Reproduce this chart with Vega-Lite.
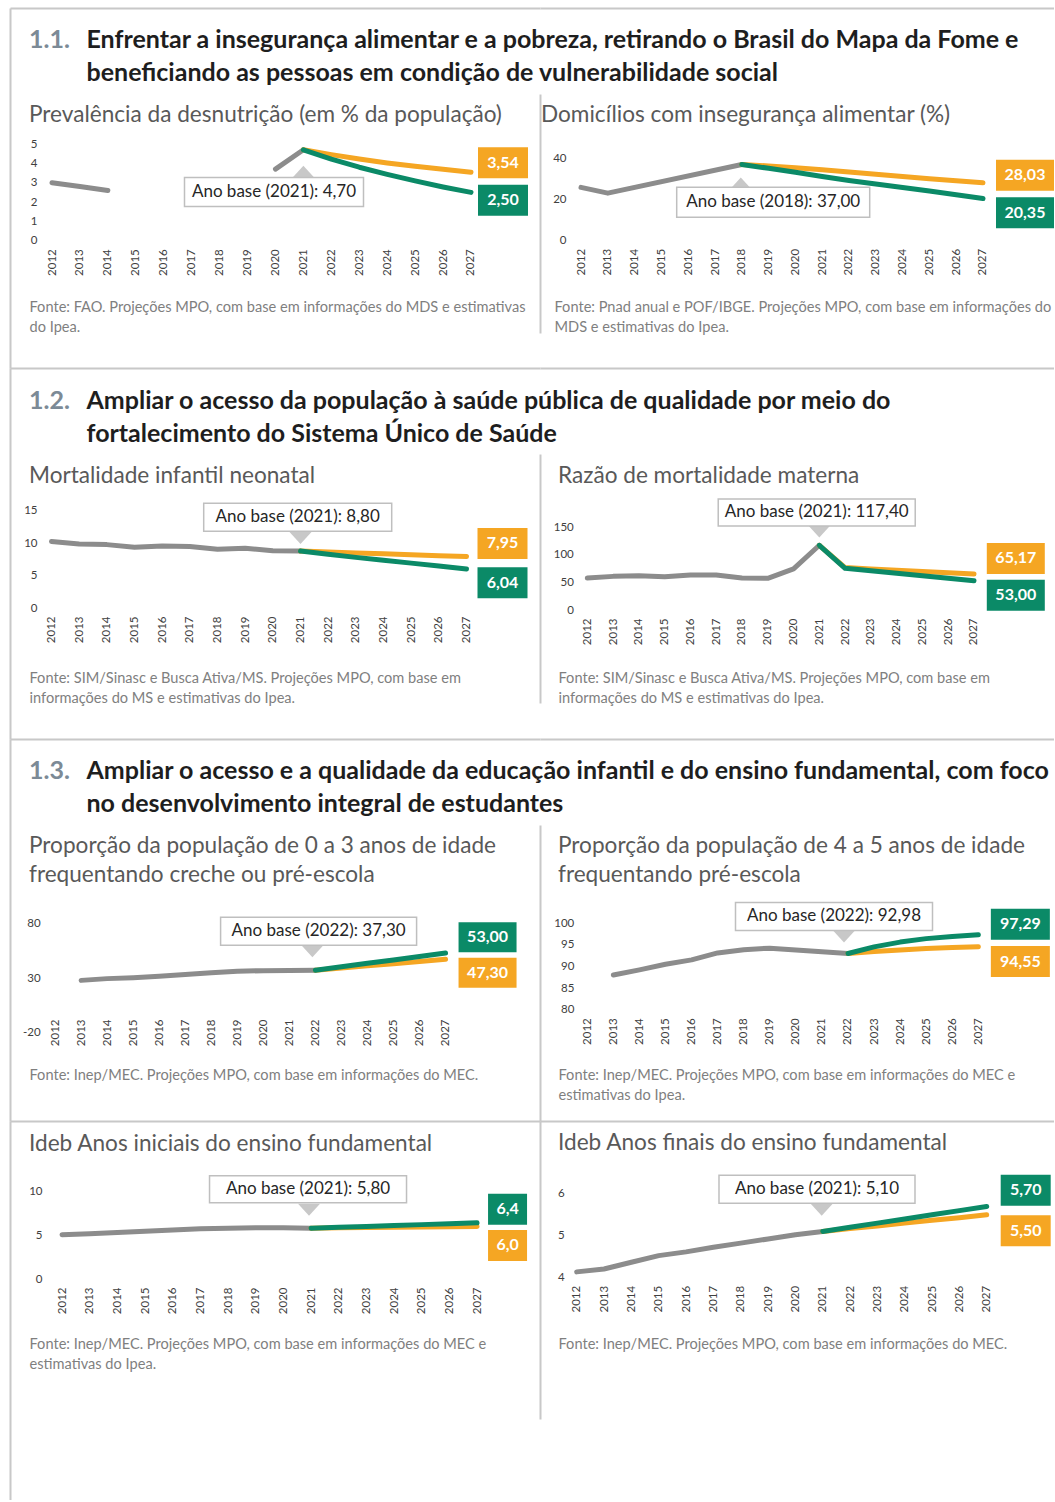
{
"$schema":"https://vega.github.io/schema/vega-lite/v6.json",
"background":"white",
"padding":{"left":10,"top":8,"right":0,"bottom":0},
"autosize":{"type":"pad"},
"columns":2,
"spacing":0,
"bounds":"flush",
"config":{
 "font":"Lato",
 "view":{"stroke":null},
 "locale":{"number":{"decimal":",","thousands":".","grouping":[3],"currency":["R$",""],"minus":"-"}},
 "axis":{"labelFont":"Lato","titleFont":"Lato","labelColor":"#404040","domain":false,"ticks":false,"tickSize":0,"grid":false,"labelFlush":false,"labelOverlap":false,"gridColor":"#C8C8C8","gridWidth":2,"gridOpacity":1,"tickColor":"#C8C8C8","tickWidth":2},
 "title":{"font":"Lato","subtitleFont":"Lato","anchor":"start","frame":"group","fontSize":22.6,"fontWeight":"normal","color":"#595959"},
 "line":{"strokeWidth":5,"strokeCap":"round","strokeJoin":"round"},
 "point":{"filled":true,"opacity":1,"strokeWidth":0},
 "text":{"font":"Lato","align":"center","baseline":"middle"},
 "rule":{"color":"#D9D9D9","strokeWidth":2}
},
"datasets":{
"p1":[
{"year":2012,"v":3.0,"s":"h"},{"year":2013,"v":2.8,"s":"h"},{"year":2014,"v":2.6,"s":"h"},
{"year":2020,"v":3.7,"s":"h2"},{"year":2021,"v":4.7,"s":"h2","note":"Ano base (2021): 4,70"},
{"year":2021,"v":4.7,"s":"o"},{"year":2022,"v":4.45,"s":"o"},{"year":2023,"v":4.22,"s":"o"},{"year":2024,"v":4.02,"s":"o"},{"year":2025,"v":3.85,"s":"o"},{"year":2026,"v":3.69,"s":"o"},{"year":2027,"v":3.54,"s":"o","lab":"3,54"},
{"year":2021,"v":4.7,"s":"g"},{"year":2022,"v":4.22,"s":"g"},{"year":2023,"v":3.8,"s":"g"},{"year":2024,"v":3.43,"s":"g"},{"year":2025,"v":3.09,"s":"g"},{"year":2026,"v":2.78,"s":"g"},{"year":2027,"v":2.5,"s":"g","lab":"2,50"}
],
"p2":[
{"year":2012,"v":25.8,"s":"h"},{"year":2013,"v":23.0,"s":"h"},{"year":2018,"v":37.0,"s":"h","note":"Ano base (2018): 37,00"},
{"year":2018,"v":37.0,"s":"o"},{"year":2019,"v":36.3,"s":"o"},{"year":2020,"v":35.4,"s":"o"},{"year":2021,"v":34.4,"s":"o"},{"year":2022,"v":33.3,"s":"o"},{"year":2023,"v":32.2,"s":"o"},{"year":2024,"v":31.1,"s":"o"},{"year":2025,"v":30.0,"s":"o"},{"year":2026,"v":29.0,"s":"o"},{"year":2027,"v":28.03,"s":"o","lab":"28,03"},
{"year":2018,"v":37.0,"s":"g"},{"year":2019,"v":35.1,"s":"g"},{"year":2020,"v":33.2,"s":"g"},{"year":2021,"v":31.1,"s":"g"},{"year":2022,"v":29.2,"s":"g"},{"year":2023,"v":27.5,"s":"g"},{"year":2024,"v":25.8,"s":"g"},{"year":2025,"v":24.0,"s":"g"},{"year":2026,"v":22.2,"s":"g"},{"year":2027,"v":20.35,"s":"g","lab":"20,35"}
],
"p3":[
{"year":2012,"v":10.3,"s":"h"},{"year":2013,"v":9.9,"s":"h"},{"year":2014,"v":9.8,"s":"h"},{"year":2015,"v":9.4,"s":"h"},{"year":2016,"v":9.6,"s":"h"},{"year":2017,"v":9.5,"s":"h"},{"year":2018,"v":9.1,"s":"h"},{"year":2019,"v":9.25,"s":"h"},{"year":2020,"v":8.85,"s":"h"},{"year":2021,"v":8.8,"s":"h","note":"Ano base (2021): 8,80"},
{"year":2021,"v":8.8,"s":"o"},{"year":2022,"v":8.66,"s":"o"},{"year":2023,"v":8.52,"s":"o"},{"year":2024,"v":8.37,"s":"o"},{"year":2025,"v":8.23,"s":"o"},{"year":2026,"v":8.09,"s":"o"},{"year":2027,"v":7.95,"s":"o","lab":"7,95"},
{"year":2021,"v":8.8,"s":"g"},{"year":2022,"v":8.3,"s":"g"},{"year":2023,"v":7.83,"s":"g"},{"year":2024,"v":7.38,"s":"g"},{"year":2025,"v":6.94,"s":"g"},{"year":2026,"v":6.49,"s":"g"},{"year":2027,"v":6.04,"s":"g","lab":"6,04"}
],
"p4":[
{"year":2012,"v":58,"s":"h"},{"year":2013,"v":61,"s":"h"},{"year":2014,"v":62,"s":"h"},{"year":2015,"v":60.5,"s":"h"},{"year":2016,"v":63.5,"s":"h"},{"year":2017,"v":63.5,"s":"h"},{"year":2018,"v":58,"s":"h"},{"year":2019,"v":57.5,"s":"h"},{"year":2020,"v":74.5,"s":"h"},{"year":2021,"v":117.4,"s":"h","note":"Ano base (2021): 117,40"},
{"year":2021,"v":117.4,"s":"o"},{"year":2022,"v":77,"s":"o"},{"year":2023,"v":74.6,"s":"o"},{"year":2024,"v":72.3,"s":"o"},{"year":2025,"v":69.9,"s":"o"},{"year":2026,"v":67.5,"s":"o"},{"year":2027,"v":65.17,"s":"o","lab":"65,17"},
{"year":2021,"v":117.4,"s":"g"},{"year":2022,"v":75.6,"s":"g"},{"year":2023,"v":71.1,"s":"g"},{"year":2024,"v":66.6,"s":"g"},{"year":2025,"v":62.1,"s":"g"},{"year":2026,"v":57.5,"s":"g"},{"year":2027,"v":53.0,"s":"g","lab":"53,00"}
],
"p5":[
{"year":2013,"v":28.0,"s":"h"},{"year":2014,"v":29.6,"s":"h"},{"year":2015,"v":30.5,"s":"h"},{"year":2016,"v":31.7,"s":"h"},{"year":2017,"v":33.4,"s":"h"},{"year":2018,"v":35.0,"s":"h"},{"year":2019,"v":36.3,"s":"h"},{"year":2020,"v":36.9,"s":"h"},{"year":2021,"v":37.1,"s":"h"},{"year":2022,"v":37.3,"s":"h","note":"Ano base (2022): 37,30"},
{"year":2022,"v":37.3,"s":"o"},{"year":2023,"v":39.3,"s":"o"},{"year":2024,"v":41.3,"s":"o"},{"year":2025,"v":43.3,"s":"o"},{"year":2026,"v":45.3,"s":"o"},{"year":2027,"v":47.3,"s":"o","lab":"47,30"},
{"year":2022,"v":37.3,"s":"g"},{"year":2023,"v":40.4,"s":"g"},{"year":2024,"v":43.6,"s":"g"},{"year":2025,"v":46.7,"s":"g"},{"year":2026,"v":49.9,"s":"g"},{"year":2027,"v":53.0,"s":"g","lab":"53,00"}
],
"p6":[
{"year":2013,"v":88.0,"s":"h"},{"year":2014,"v":89.2,"s":"h"},{"year":2015,"v":90.5,"s":"h"},{"year":2016,"v":91.5,"s":"h"},{"year":2017,"v":93.1,"s":"h"},{"year":2018,"v":93.85,"s":"h"},{"year":2019,"v":94.2,"s":"h"},{"year":2020,"v":93.8,"s":"h"},{"year":2021,"v":93.4,"s":"h"},{"year":2022,"v":92.98,"s":"h","note":"Ano base (2022): 92,98"},
{"year":2022,"v":92.98,"s":"o"},{"year":2023,"v":93.45,"s":"o"},{"year":2024,"v":93.8,"s":"o"},{"year":2025,"v":94.1,"s":"o"},{"year":2026,"v":94.35,"s":"o"},{"year":2027,"v":94.55,"s":"o","lab":"94,55"},
{"year":2022,"v":92.98,"s":"g"},{"year":2023,"v":94.5,"s":"g"},{"year":2024,"v":95.6,"s":"g"},{"year":2025,"v":96.4,"s":"g"},{"year":2026,"v":96.9,"s":"g"},{"year":2027,"v":97.29,"s":"g","lab":"97,29"}
],
"p7":[
{"year":2012,"v":5.05,"s":"h"},{"year":2013,"v":5.15,"s":"h"},{"year":2014,"v":5.3,"s":"h"},{"year":2015,"v":5.45,"s":"h"},{"year":2016,"v":5.6,"s":"h"},{"year":2017,"v":5.72,"s":"h"},{"year":2018,"v":5.8,"s":"h"},{"year":2019,"v":5.85,"s":"h"},{"year":2020,"v":5.83,"s":"h"},{"year":2021,"v":5.8,"s":"h","note":"Ano base (2021): 5,80"},
{"year":2021,"v":5.8,"s":"o"},{"year":2022,"v":5.83,"s":"o"},{"year":2023,"v":5.87,"s":"o"},{"year":2024,"v":5.9,"s":"o"},{"year":2025,"v":5.93,"s":"o"},{"year":2026,"v":5.97,"s":"o"},{"year":2027,"v":6.0,"s":"o","lab":"6,0"},
{"year":2021,"v":5.8,"s":"g"},{"year":2022,"v":5.9,"s":"g"},{"year":2023,"v":6.0,"s":"g"},{"year":2024,"v":6.1,"s":"g"},{"year":2025,"v":6.2,"s":"g"},{"year":2026,"v":6.3,"s":"g"},{"year":2027,"v":6.4,"s":"g","lab":"6,4"}
],
"p8":[
{"year":2012,"v":4.13,"s":"h"},{"year":2013,"v":4.2,"s":"h"},{"year":2014,"v":4.36,"s":"h"},{"year":2015,"v":4.52,"s":"h"},{"year":2016,"v":4.61,"s":"h"},{"year":2017,"v":4.72,"s":"h"},{"year":2018,"v":4.82,"s":"h"},{"year":2019,"v":4.92,"s":"h"},{"year":2020,"v":5.02,"s":"h"},{"year":2021,"v":5.1,"s":"h","note":"Ano base (2021): 5,10"},
{"year":2021,"v":5.1,"s":"o"},{"year":2022,"v":5.17,"s":"o"},{"year":2023,"v":5.23,"s":"o"},{"year":2024,"v":5.3,"s":"o"},{"year":2025,"v":5.37,"s":"o"},{"year":2026,"v":5.43,"s":"o"},{"year":2027,"v":5.5,"s":"o","lab":"5,50"},
{"year":2021,"v":5.1,"s":"g"},{"year":2022,"v":5.2,"s":"g"},{"year":2023,"v":5.3,"s":"g"},{"year":2024,"v":5.4,"s":"g"},{"year":2025,"v":5.5,"s":"g"},{"year":2026,"v":5.6,"s":"g"},{"year":2027,"v":5.7,"s":"g","lab":"5,70"}
]
},
"concat":[
{
"width":530,"height":360,"data":{"name":"p1"},
"title":{"text":"1.1.","subtitle":"Prevalência da desnutrição (em % da população)","fontSize":25,"fontWeight":"bold","color":"#7C8A96","subtitleFontSize":22.6,"subtitleColor":"#595959","subtitleFontWeight":"normal","subtitlePadding":51,"dx":19,"offset":-118.3},
"encoding":{"x":{"field":"year","type":"quantitative","scale":{"domain":[2010.4964,2029.4702],"nice":false,"zero":false},"axis":null},"y":{"field":"v","type":"quantitative","scale":{"domain":[-6.5822,12.0321],"nice":false,"zero":false},"axis":null}},
"resolve":{"axis":{"x":"independent","y":"independent"}},
"layer":[
{"data":{"values":[{}]},"mark":{"type":"rule"},"encoding":{"x":{"datum":2012,"type":"quantitative","scale":{"domain":[2010.4964,2029.4702],"nice":false,"zero":false},"axis":{"orient":"bottom","values":[2010.4964],"grid":true,"labels":false,"title":null}},"x2":{"datum":2027},"y":{"datum":0,"type":"quantitative","scale":{"domain":[-6.5822,12.0321],"nice":false,"zero":false},"axis":{"orient":"left","values":[12.0321],"grid":true,"labels":false,"title":null}}}},
{"transform":[{"filter":{"field":"s","oneOf":["h","h2"]}}],"mark":{"type":"line","color":"#8C8C8C"},"encoding":{
 "x":{"field":"year","type":"quantitative","scale":{"domain":[2010.4964,2029.4702],"nice":false,"zero":false},"axis":{"orient":"bottom","offset":-127.3,"values":[2012,2013,2014,2015,2016,2017,2018,2019,2020,2021,2022,2023,2024,2025,2026,2027],"format":"d","labelAngle":-90,"labelFontSize":11.5,"labelPadding":8,"title":["Fonte: FAO. Projeções MPO, com base em informações do MDS e estimativas","do Ipea."],"titleX":19,"titleY":58.6,"titleAlign":"left","titleAngle":0,"titleBaseline":"top","titleFontSize":14.6,"titleFontWeight":"normal","titleColor":"#7F7F7F","titleLineHeight":20,"titleLimit":1000}},
 "y":{"field":"v","type":"quantitative","scale":{"domain":[-6.5822,12.0321],"nice":false,"zero":false},"axis":{"orient":"left","offset":-42,"values":[0,1,2,3,4,5],"format":"d","labelFontSize":11.5,"labelPadding":15,"title":["Enfrentar a insegurança alimentar e a pobreza, retirando o Brasil do Mapa da Fome e","beneficiando as pessoas em condição de vulnerabilidade social"],"titleX":34,"titleY":19.25,"titleAlign":"left","titleAngle":0,"titleBaseline":"top","titleFontSize":25,"titleFontWeight":"bold","titleColor":"#1E1E1E","titleLineHeight":33,"titleLimit":1100}},
 "detail":{"field":"s"}}},
{"transform":[{"filter":"datum.s == 'o'"}],"mark":{"type":"line","color":"#F5A623"}},
{"transform":[{"filter":"datum.s == 'g'"}],"mark":{"type":"line","color":"#0B8A67"}},
{"transform":[{"filter":"datum.s == 'o' && datum.lab"}],"mark":{"type":"point","shape":"M-1,-0.62L1,-0.62L1,0.62L-1,0.62Z","size":2500,"fill":"#F5A623","xOffset":32,"yOffset":-9.5}},
{"transform":[{"filter":"datum.s == 'o' && datum.lab"}],"mark":{"type":"text","color":"white","fontWeight":"bold","fontSize":16,"xOffset":32,"yOffset":-9.5},"encoding":{"text":{"field":"lab"}}},
{"transform":[{"filter":"datum.s == 'g' && datum.lab"}],"mark":{"type":"point","shape":"M-1,-0.62L1,-0.62L1,0.62L-1,0.62Z","size":2500,"fill":"#0B8A67","xOffset":32,"yOffset":7.9}},
{"transform":[{"filter":"datum.s == 'g' && datum.lab"}],"mark":{"type":"text","color":"white","fontWeight":"bold","fontSize":16,"xOffset":32,"yOffset":7.9},"encoding":{"text":{"field":"lab"}}},
{"transform":[{"filter":"datum.note"}],"mark":{"type":"point","shape":"M-1,0.545L1,0.545L0,-0.545Z","size":484,"fill":"#C8C8C8","yOffset":22}},
{"transform":[{"filter":"datum.note"}],"mark":{"type":"point","shape":"M-1,-0.162L1,-0.162L1,0.162L-1,0.162Z","size":32041,"fill":"white","stroke":"#BFBFBF","strokeWidth":1.5,"xOffset":-29.4,"yOffset":42.2}},
{"transform":[{"filter":"datum.note"}],"mark":{"type":"text","fontSize":17,"color":"#262626","xOffset":-29.4,"yOffset":42.2},"encoding":{"text":{"field":"note"}}}
]
},
{
"width":514,"height":360,"data":{"name":"p2"},
"title":{"text":"Domicílios com insegurança alimentar (%)","dx":1,"offset":-118.3},
"encoding":{"x":{"field":"year","type":"quantitative","scale":{"domain":[2010.4701,2029.6493],"nice":false,"zero":false},"axis":null},"y":{"field":"v","type":"quantitative","scale":{"domain":[-62.2927,113.3171],"nice":false,"zero":false},"axis":null}},
"resolve":{"axis":{"x":"independent","y":"independent"}},
"layer":[
{"data":{"values":[{}]},"mark":{"type":"rule"},"encoding":{"x":{"datum":2012,"type":"quantitative","scale":{"domain":[2010.4701,2029.6493],"nice":false,"zero":false},"axis":{"orient":"top","offset":-86,"values":[2010.4701],"ticks":true,"tickSize":-239,"labels":false,"title":null}},"x2":{"datum":2027},"y":{"datum":0,"type":"quantitative","scale":{"domain":[-62.2927,113.3171],"nice":false,"zero":false},"axis":{"orient":"left","values":[113.3171],"grid":true,"labels":false,"title":null}}}},
{"transform":[{"filter":{"field":"s","oneOf":["h","h2"]}}],"mark":{"type":"line","color":"#8C8C8C"},"encoding":{
 "x":{"field":"year","type":"quantitative","scale":{"domain":[2010.4701,2029.6493],"nice":false,"zero":false},"axis":{"orient":"bottom","offset":-127.7,"values":[2012,2013,2014,2015,2016,2017,2018,2019,2020,2021,2022,2023,2024,2025,2026,2027],"format":"d","labelAngle":-90,"labelFontSize":11.5,"labelPadding":8,"title":["Fonte: Pnad anual e POF/IBGE. Projeções MPO, com base em informações do","MDS e estimativas do Ipea."],"titleX":14,"titleY":59.5,"titleAlign":"left","titleAngle":0,"titleBaseline":"top","titleFontSize":14.6,"titleFontWeight":"normal","titleColor":"#7F7F7F","titleLineHeight":20,"titleLimit":1000}},
 "y":{"field":"v","type":"quantitative","scale":{"domain":[-62.2927,113.3171],"nice":false,"zero":false},"axis":{"orient":"left","offset":-41,"values":[0,20,40],"format":"d","labelFontSize":11.5,"labelPadding":15,"title":null}},
 "detail":{"field":"s"}}},
{"transform":[{"filter":"datum.s == 'o'"}],"mark":{"type":"line","color":"#F5A623"}},
{"transform":[{"filter":"datum.s == 'g'"}],"mark":{"type":"line","color":"#0B8A67"}},
{"transform":[{"filter":"datum.s == 'o' && datum.lab"}],"mark":{"type":"point","shape":"M-1,-0.5345L1,-0.5345L1,0.5345L-1,0.5345Z","size":3364,"fill":"#F5A623","xOffset":42,"yOffset":-7.5}},
{"transform":[{"filter":"datum.s == 'o' && datum.lab"}],"mark":{"type":"text","color":"white","fontWeight":"bold","fontSize":16,"xOffset":42,"yOffset":-7.5},"encoding":{"text":{"field":"lab"}}},
{"transform":[{"filter":"datum.s == 'g' && datum.lab"}],"mark":{"type":"point","shape":"M-1,-0.5345L1,-0.5345L1,0.5345L-1,0.5345Z","size":3364,"fill":"#0B8A67","xOffset":42,"yOffset":14.1}},
{"transform":[{"filter":"datum.s == 'g' && datum.lab"}],"mark":{"type":"text","color":"white","fontWeight":"bold","fontSize":16,"xOffset":42,"yOffset":14.1},"encoding":{"text":{"field":"lab"}}},
{"transform":[{"filter":"datum.note"}],"mark":{"type":"point","shape":"M-1,0.545L1,0.545L0,-0.545Z","size":484,"fill":"#C8C8C8","xOffset":-1,"yOffset":19}},
{"transform":[{"filter":"datum.note"}],"mark":{"type":"point","shape":"M-1,-0.1554L1,-0.1554L1,0.1554L-1,0.1554Z","size":37249,"fill":"white","stroke":"#BFBFBF","strokeWidth":1.5,"xOffset":31.4,"yOffset":37.9}},
{"transform":[{"filter":"datum.note"}],"mark":{"type":"text","fontSize":17,"color":"#262626","xOffset":31.4,"yOffset":37.9},"encoding":{"text":{"field":"note"}}}
]
},
{
"width":530,"height":371,"data":{"name":"p3"},
"title":{"text":"1.2.","subtitle":"Mortalidade infantil neonatal","fontSize":25,"fontWeight":"bold","color":"#7C8A96","subtitleFontSize":22.6,"subtitleColor":"#595959","subtitleFontWeight":"normal","subtitlePadding":51,"dx":19,"offset":-119.3},
"encoding":{"x":{"field":"year","type":"quantitative","scale":{"domain":[2010.5,2029.6566],"nice":false,"zero":false},"axis":null},"y":{"field":"v","type":"quantitative","scale":{"domain":[-20.2567,37.1115],"nice":false,"zero":false},"axis":null}},
"resolve":{"axis":{"x":"independent","y":"independent"}},
"layer":[
{"data":{"values":[{}]},"mark":{"type":"rule"},"encoding":{"x":{"datum":2012,"type":"quantitative","scale":{"domain":[2010.5,2029.6566],"nice":false,"zero":false},"axis":{"orient":"bottom","values":[2010.5],"grid":true,"labels":false,"title":null}},"x2":{"datum":2027},"y":{"datum":0,"type":"quantitative","scale":{"domain":[-20.2567,37.1115],"nice":false,"zero":false},"axis":{"orient":"left","values":[37.1115],"grid":true,"labels":false,"title":null}}}},
{"transform":[{"filter":{"field":"s","oneOf":["h","h2"]}}],"mark":{"type":"line","color":"#8C8C8C"},"encoding":{
 "x":{"field":"year","type":"quantitative","scale":{"domain":[2010.5,2029.6566],"nice":false,"zero":false},"axis":{"orient":"bottom","offset":-131,"values":[2012,2013,2014,2015,2016,2017,2018,2019,2020,2021,2022,2023,2024,2025,2026,2027],"format":"d","labelAngle":-90,"labelFontSize":11.5,"labelPadding":8,"title":["Fonte: SIM/Sinasc e Busca Ativa/MS. Projeções MPO, com base em","informações do MS e estimativas do Ipea."],"titleX":19,"titleY":62,"titleAlign":"left","titleAngle":0,"titleBaseline":"top","titleFontSize":14.6,"titleFontWeight":"normal","titleColor":"#7F7F7F","titleLineHeight":20,"titleLimit":1000}},
 "y":{"field":"v","type":"quantitative","scale":{"domain":[-20.2567,37.1115],"nice":false,"zero":false},"axis":{"orient":"left","offset":-41.5,"values":[0,5,10,15],"format":"d","labelFontSize":11.5,"labelPadding":14.5,"title":["Ampliar o acesso da população à saúde pública de qualidade por meio do","fortalecimento do Sistema Único de Saúde"],"titleX":34.5,"titleY":20.25,"titleAlign":"left","titleAngle":0,"titleBaseline":"top","titleFontSize":25,"titleFontWeight":"bold","titleColor":"#1E1E1E","titleLineHeight":33,"titleLimit":1100}},
 "detail":{"field":"s"}}},
{"transform":[{"filter":"datum.s == 'o'"}],"mark":{"type":"line","color":"#F5A623"}},
{"transform":[{"filter":"datum.s == 'g'"}],"mark":{"type":"line","color":"#0B8A67"}},
{"transform":[{"filter":"datum.s == 'o' && datum.lab"}],"mark":{"type":"point","shape":"M-1,-0.62L1,-0.62L1,0.62L-1,0.62Z","size":2500,"fill":"#F5A623","xOffset":36,"yOffset":-13.1}},
{"transform":[{"filter":"datum.s == 'o' && datum.lab"}],"mark":{"type":"text","color":"white","fontWeight":"bold","fontSize":16,"xOffset":36,"yOffset":-13.1},"encoding":{"text":{"field":"lab"}}},
{"transform":[{"filter":"datum.s == 'g' && datum.lab"}],"mark":{"type":"point","shape":"M-1,-0.62L1,-0.62L1,0.62L-1,0.62Z","size":2500,"fill":"#0B8A67","xOffset":36,"yOffset":13.7}},
{"transform":[{"filter":"datum.s == 'g' && datum.lab"}],"mark":{"type":"text","color":"white","fontWeight":"bold","fontSize":16,"xOffset":36,"yOffset":13.7},"encoding":{"text":{"field":"lab"}}},
{"transform":[{"filter":"datum.note"}],"mark":{"type":"point","shape":"M-1,-0.545L1,-0.545L0,0.545Z","size":484,"fill":"#C8C8C8","yOffset":-13}},
{"transform":[{"filter":"datum.note"}],"mark":{"type":"point","shape":"M-1,-0.1489L1,-0.1489L1,0.1489L-1,0.1489Z","size":35344,"fill":"white","stroke":"#BFBFBF","strokeWidth":1.5,"xOffset":-2.8,"yOffset":-33.9}},
{"transform":[{"filter":"datum.note"}],"mark":{"type":"text","fontSize":17,"color":"#262626","xOffset":-2.8,"yOffset":-33.9},"encoding":{"text":{"field":"note"}}}
]
},
{
"width":514,"height":371,"data":{"name":"p4"},
"title":{"text":"Razão de mortalidade materna","dx":18,"offset":-119.3},
"encoding":{"x":{"field":"year","type":"quantitative","scale":{"domain":[2010.1652,2030.1032],"nice":false,"zero":false},"axis":null},"y":{"field":"v","type":"quantitative","scale":{"domain":[-233.9924,438.9625],"nice":false,"zero":false},"axis":null}},
"resolve":{"axis":{"x":"independent","y":"independent"}},
"layer":[
{"data":{"values":[{}]},"mark":{"type":"rule"},"encoding":{"x":{"datum":2012,"type":"quantitative","scale":{"domain":[2010.1652,2030.1032],"nice":false,"zero":false},"axis":{"orient":"top","offset":-86,"values":[2010.1652],"ticks":true,"tickSize":-249,"labels":false,"title":null}},"x2":{"datum":2027},"y":{"datum":0,"type":"quantitative","scale":{"domain":[-233.9924,438.9625],"nice":false,"zero":false},"axis":{"orient":"left","values":[438.9625],"grid":true,"labels":false,"title":null}}}},
{"transform":[{"filter":{"field":"s","oneOf":["h","h2"]}}],"mark":{"type":"line","color":"#8C8C8C"},"encoding":{
 "x":{"field":"year","type":"quantitative","scale":{"domain":[2010.1652,2030.1032],"nice":false,"zero":false},"axis":{"orient":"bottom","offset":-129,"values":[2012,2013,2014,2015,2016,2017,2018,2019,2020,2021,2022,2023,2024,2025,2026,2027],"format":"d","labelAngle":-90,"labelFontSize":11.5,"labelPadding":8,"title":["Fonte: SIM/Sinasc e Busca Ativa/MS. Projeções MPO, com base em","informações do MS e estimativas do Ipea."],"titleX":18,"titleY":60,"titleAlign":"left","titleAngle":0,"titleBaseline":"top","titleFontSize":14.6,"titleFontWeight":"normal","titleColor":"#7F7F7F","titleLineHeight":20,"titleLimit":1000}},
 "y":{"field":"v","type":"quantitative","scale":{"domain":[-233.9924,438.9625],"nice":false,"zero":false},"axis":{"orient":"left","offset":-47.3,"values":[0,50,100,150],"format":"d","labelFontSize":11.5,"labelPadding":14,"title":null}},
 "detail":{"field":"s"}}},
{"transform":[{"filter":"datum.s == 'o'"}],"mark":{"type":"line","color":"#F5A623"}},
{"transform":[{"filter":"datum.s == 'g'"}],"mark":{"type":"line","color":"#0B8A67"}},
{"transform":[{"filter":"datum.s == 'o' && datum.lab"}],"mark":{"type":"point","shape":"M-1,-0.5345L1,-0.5345L1,0.5345L-1,0.5345Z","size":3364,"fill":"#F5A623","xOffset":41.8,"yOffset":-15.6}},
{"transform":[{"filter":"datum.s == 'o' && datum.lab"}],"mark":{"type":"text","color":"white","fontWeight":"bold","fontSize":16,"xOffset":41.8,"yOffset":-15.6},"encoding":{"text":{"field":"lab"}}},
{"transform":[{"filter":"datum.s == 'g' && datum.lab"}],"mark":{"type":"point","shape":"M-1,-0.5345L1,-0.5345L1,0.5345L-1,0.5345Z","size":3364,"fill":"#0B8A67","xOffset":41.8,"yOffset":14.4}},
{"transform":[{"filter":"datum.s == 'g' && datum.lab"}],"mark":{"type":"text","color":"white","fontWeight":"bold","fontSize":16,"xOffset":41.8,"yOffset":14.4},"encoding":{"text":{"field":"lab"}}},
{"transform":[{"filter":"datum.note"}],"mark":{"type":"point","shape":"M-1,-0.545L1,-0.545L0,0.545Z","size":484,"fill":"#C8C8C8","yOffset":-13.8}},
{"transform":[{"filter":"datum.note"}],"mark":{"type":"point","shape":"M-1,-0.1371L1,-0.1371L1,0.1371L-1,0.1371Z","size":38809,"fill":"white","stroke":"#BFBFBF","strokeWidth":1.5,"xOffset":-2.6,"yOffset":-32.8}},
{"transform":[{"filter":"datum.note"}],"mark":{"type":"text","fontSize":17,"color":"#262626","xOffset":-2.6,"yOffset":-32.8},"encoding":{"text":{"field":"note"}}}
]
},
{
"width":530,"height":382,"data":{"name":"p5"},
"title":{"text":"1.3.","subtitle":["Proporção da população de 0 a 3 anos de idade","frequentando creche ou pré-escola"],"fontSize":25,"fontWeight":"bold","color":"#7C8A96","subtitleFontSize":22.6,"subtitleColor":"#595959","subtitleFontWeight":"normal","subtitleLineHeight":29,"subtitlePadding":51,"dx":19,"offset":-147.3},
"encoding":{"x":{"field":"year","type":"quantitative","scale":{"domain":[2010.2674,2030.6285],"nice":false,"zero":false},"axis":null},"y":{"field":"v","type":"quantitative","scale":{"domain":[-100.5668,248.6743],"nice":false,"zero":false},"axis":null}},
"resolve":{"axis":{"x":"independent","y":"independent"}},
"layer":[
{"data":{"values":[{}]},"mark":{"type":"rule"},"encoding":{"x":{"datum":2012,"type":"quantitative","scale":{"domain":[2010.2674,2030.6285],"nice":false,"zero":false},"axis":{"orient":"bottom","values":[2010.2674],"grid":true,"labels":false,"title":null}},"x2":{"datum":2027},"y":{"datum":0,"type":"quantitative","scale":{"domain":[-100.5668,248.6743],"nice":false,"zero":false},"axis":{"orient":"left","values":[248.6743],"grid":true,"labels":false,"title":null}}}},
{"transform":[{"filter":{"field":"s","oneOf":["h","h2"]}}],"mark":{"type":"line","color":"#8C8C8C"},"encoding":{
 "x":{"field":"year","type":"quantitative","scale":{"domain":[2010.2674,2030.6285],"nice":false,"zero":false},"axis":{"orient":"bottom","offset":-110,"values":[2012,2013,2014,2015,2016,2017,2018,2019,2020,2021,2022,2023,2024,2025,2026,2027],"format":"d","labelAngle":-90,"labelFontSize":11.5,"labelPadding":8,"title":"Fonte: Inep/MEC. Projeções MPO, com base em informações do MEC.","titleX":19,"titleY":56.3,"titleAlign":"left","titleAngle":0,"titleBaseline":"top","titleFontSize":14.6,"titleFontWeight":"normal","titleColor":"#7F7F7F","titleLineHeight":20,"titleLimit":1000}},
 "y":{"field":"v","type":"quantitative","scale":{"domain":[-100.5668,248.6743],"nice":false,"zero":false},"axis":{"orient":"left","offset":-45.1,"values":[-20,30,80],"format":"d","labelFontSize":11.5,"labelPadding":15,"title":["Ampliar o acesso e a qualidade da educação infantil e do ensino fundamental, com foco","no desenvolvimento integral de estudantes"],"titleX":30.9,"titleY":19.25,"titleAlign":"left","titleAngle":0,"titleBaseline":"top","titleFontSize":25,"titleFontWeight":"bold","titleColor":"#1E1E1E","titleLineHeight":33,"titleLimit":1100}},
 "detail":{"field":"s"}}},
{"transform":[{"filter":"datum.s == 'o'"}],"mark":{"type":"line","color":"#F5A623"}},
{"transform":[{"filter":"datum.s == 'g'"}],"mark":{"type":"line","color":"#0B8A67"}},
{"transform":[{"filter":"datum.s == 'o' && datum.lab"}],"mark":{"type":"point","shape":"M-1,-0.5172L1,-0.5172L1,0.5172L-1,0.5172Z","size":3364,"fill":"#F5A623","xOffset":42,"yOffset":13.4}},
{"transform":[{"filter":"datum.s == 'o' && datum.lab"}],"mark":{"type":"text","color":"white","fontWeight":"bold","fontSize":16,"xOffset":42,"yOffset":13.4},"encoding":{"text":{"field":"lab"}}},
{"transform":[{"filter":"datum.s == 'g' && datum.lab"}],"mark":{"type":"point","shape":"M-1,-0.5172L1,-0.5172L1,0.5172L-1,0.5172Z","size":3364,"fill":"#0B8A67","xOffset":42,"yOffset":-15.7}},
{"transform":[{"filter":"datum.s == 'g' && datum.lab"}],"mark":{"type":"text","color":"white","fontWeight":"bold","fontSize":16,"xOffset":42,"yOffset":-15.7},"encoding":{"text":{"field":"lab"}}},
{"transform":[{"filter":"datum.note"}],"mark":{"type":"point","shape":"M-1,-0.545L1,-0.545L0,0.545Z","size":484,"fill":"#C8C8C8","xOffset":-3,"yOffset":-19}},
{"transform":[{"filter":"datum.note"}],"mark":{"type":"point","shape":"M-1,-0.1429L1,-0.1429L1,0.1429L-1,0.1429Z","size":38416,"fill":"white","stroke":"#BFBFBF","strokeWidth":1.5,"xOffset":3.2,"yOffset":-39}},
{"transform":[{"filter":"datum.note"}],"mark":{"type":"text","fontSize":17,"color":"#262626","xOffset":3.2,"yOffset":-39},"encoding":{"text":{"field":"note"}}}
]
},
{
"width":514,"height":382,"data":{"name":"p6"},
"title":{"text":["Proporção da população de 4 a 5 anos de idade","frequentando pré-escola"],"lineHeight":29,"dx":18,"offset":-147.3},
"encoding":{"x":{"field":"year","type":"quantitative","scale":{"domain":[2010.1857,2029.9018],"nice":false,"zero":false},"axis":null},"y":{"field":"v","type":"quantitative","scale":{"domain":[54.3154,142.4692],"nice":false,"zero":false},"axis":null}},
"resolve":{"axis":{"x":"independent","y":"independent"}},
"layer":[
{"data":{"values":[{}]},"mark":{"type":"rule"},"encoding":{"x":{"datum":2012,"type":"quantitative","scale":{"domain":[2010.1857,2029.9018],"nice":false,"zero":false},"axis":{"orient":"top","offset":-86,"values":[2010.1857],"ticks":true,"tickSize":-296,"labels":false,"title":null}},"x2":{"datum":2027},"y":{"datum":80,"type":"quantitative","scale":{"domain":[54.3154,142.4692],"nice":false,"zero":false},"axis":{"orient":"left","values":[142.4692],"grid":true,"labels":false,"title":null}}}},
{"transform":[{"filter":{"field":"s","oneOf":["h","h2"]}}],"mark":{"type":"line","color":"#8C8C8C"},"encoding":{
 "x":{"field":"year","type":"quantitative","scale":{"domain":[2010.1857,2029.9018],"nice":false,"zero":false},"axis":{"orient":"bottom","offset":-111.3,"values":[2012,2013,2014,2015,2016,2017,2018,2019,2020,2021,2022,2023,2024,2025,2026,2027],"format":"d","labelAngle":-90,"labelFontSize":11.5,"labelPadding":8,"title":["Fonte: Inep/MEC. Projeções MPO, com base em informações do MEC e","estimativas do Ipea."],"titleX":18,"titleY":57.6,"titleAlign":"left","titleAngle":0,"titleBaseline":"top","titleFontSize":14.6,"titleFontWeight":"normal","titleColor":"#7F7F7F","titleLineHeight":20,"titleLimit":1000}},
 "y":{"field":"v","type":"quantitative","scale":{"domain":[54.3154,142.4692],"nice":false,"zero":false},"axis":{"orient":"left","offset":-47.3,"values":[80,85,90,95,100],"format":"d","labelFontSize":11.5,"labelPadding":13.5,"title":null}},
 "detail":{"field":"s"}}},
{"transform":[{"filter":"datum.s == 'o'"}],"mark":{"type":"line","color":"#F5A623"}},
{"transform":[{"filter":"datum.s == 'g'"}],"mark":{"type":"line","color":"#0B8A67"}},
{"transform":[{"filter":"datum.s == 'o' && datum.lab"}],"mark":{"type":"point","shape":"M-1,-0.5254L1,-0.5254L1,0.5254L-1,0.5254Z","size":3481,"fill":"#F5A623","xOffset":42,"yOffset":14.9}},
{"transform":[{"filter":"datum.s == 'o' && datum.lab"}],"mark":{"type":"text","color":"white","fontWeight":"bold","fontSize":16,"xOffset":42,"yOffset":14.9},"encoding":{"text":{"field":"lab"}}},
{"transform":[{"filter":"datum.s == 'g' && datum.lab"}],"mark":{"type":"point","shape":"M-1,-0.5254L1,-0.5254L1,0.5254L-1,0.5254Z","size":3481,"fill":"#0B8A67","xOffset":42,"yOffset":-10.5}},
{"transform":[{"filter":"datum.s == 'g' && datum.lab"}],"mark":{"type":"text","color":"white","fontWeight":"bold","fontSize":16,"xOffset":42,"yOffset":-10.5},"encoding":{"text":{"field":"lab"}}},
{"transform":[{"filter":"datum.note"}],"mark":{"type":"point","shape":"M-1,-0.545L1,-0.545L0,0.545Z","size":484,"fill":"#C8C8C8","xOffset":-4,"yOffset":-17}},
{"transform":[{"filter":"datum.note"}],"mark":{"type":"point","shape":"M-1,-0.1421L1,-0.1421L1,0.1421L-1,0.1421Z","size":38809,"fill":"white","stroke":"#BFBFBF","strokeWidth":1.5,"xOffset":-14,"yOffset":-37}},
{"transform":[{"filter":"datum.note"}],"mark":{"type":"text","fontSize":17,"color":"#262626","xOffset":-14,"yOffset":-37},"encoding":{"text":{"field":"note"}}}
]
},
{
"width":530,"height":379,"data":{"name":"p7"},
"title":{"text":"Ideb Anos iniciais do ensino fundamental","dx":19,"offset":-34.3},
"encoding":{"x":{"field":"year","type":"quantitative","scale":{"domain":[2010.1207,2029.275],"nice":false,"zero":false},"axis":null},"y":{"field":"v","type":"quantitative","scale":{"domain":[-25.1995,18.016],"nice":false,"zero":false},"axis":null}},
"resolve":{"axis":{"x":"independent","y":"independent"}},
"layer":[
{"data":{"values":[{}]},"mark":{"type":"rule"},"encoding":{"x":{"datum":2012,"type":"quantitative","scale":{"domain":[2010.1207,2029.275],"nice":false,"zero":false},"axis":{"orient":"bottom","values":[2010.1207],"grid":true,"labels":false,"title":null}},"x2":{"datum":2027},"y":{"datum":0,"type":"quantitative","scale":{"domain":[-25.1995,18.016],"nice":false,"zero":false},"axis":{"orient":"left","values":[18.016],"grid":true,"labels":false,"title":null}}}},
{"transform":[{"filter":{"field":"s","oneOf":["h","h2"]}}],"mark":{"type":"line","color":"#8C8C8C"},"encoding":{
 "x":{"field":"year","type":"quantitative","scale":{"domain":[2010.1207,2029.275],"nice":false,"zero":false},"axis":{"orient":"bottom","offset":-221,"values":[2012,2013,2014,2015,2016,2017,2018,2019,2020,2021,2022,2023,2024,2025,2026,2027],"format":"d","labelAngle":-90,"labelFontSize":11.5,"labelPadding":8,"title":["Fonte: Inep/MEC. Projeções MPO, com base em informações do MEC e","estimativas do Ipea."],"titleX":19,"titleY":57.6,"titleAlign":"left","titleAngle":0,"titleBaseline":"top","titleFontSize":14.6,"titleFontWeight":"normal","titleColor":"#7F7F7F","titleLineHeight":20,"titleLimit":1000}},
 "y":{"field":"v","type":"quantitative","scale":{"domain":[-25.1995,18.016],"nice":false,"zero":false},"axis":{"orient":"left","offset":-52,"values":[0,5,10],"format":"d","labelFontSize":11.5,"labelPadding":20,"title":null}},
 "detail":{"field":"s"}}},
{"transform":[{"filter":"datum.s == 'o'"}],"mark":{"type":"line","color":"#F5A623"}},
{"transform":[{"filter":"datum.s == 'g'"}],"mark":{"type":"line","color":"#0B8A67"}},
{"transform":[{"filter":"datum.s == 'o' && datum.lab"}],"mark":{"type":"point","shape":"M-1,-0.7949L1,-0.7949L1,0.7949L-1,0.7949Z","size":1521,"fill":"#F5A623","xOffset":30.5,"yOffset":19}},
{"transform":[{"filter":"datum.s == 'o' && datum.lab"}],"mark":{"type":"text","color":"white","fontWeight":"bold","fontSize":16,"xOffset":30.5,"yOffset":19},"encoding":{"text":{"field":"lab"}}},
{"transform":[{"filter":"datum.s == 'g' && datum.lab"}],"mark":{"type":"point","shape":"M-1,-0.7949L1,-0.7949L1,0.7949L-1,0.7949Z","size":1521,"fill":"#0B8A67","xOffset":30.5,"yOffset":-13.6}},
{"transform":[{"filter":"datum.s == 'g' && datum.lab"}],"mark":{"type":"text","color":"white","fontWeight":"bold","fontSize":16,"xOffset":30.5,"yOffset":-13.6},"encoding":{"text":{"field":"lab"}}},
{"transform":[{"filter":"datum.note"}],"mark":{"type":"point","shape":"M-1,-0.545L1,-0.545L0,0.545Z","size":484,"fill":"#C8C8C8","xOffset":-2,"yOffset":-18.5}},
{"transform":[{"filter":"datum.note"}],"mark":{"type":"point","shape":"M-1,-0.1371L1,-0.1371L1,0.1371L-1,0.1371Z","size":38809,"fill":"white","stroke":"#BFBFBF","strokeWidth":1.5,"xOffset":-3,"yOffset":-38.8}},
{"transform":[{"filter":"datum.note"}],"mark":{"type":"text","fontSize":17,"color":"#262626","xOffset":-3,"yOffset":-38.8},"encoding":{"text":{"field":"note"}}}
]
},
{
"width":514,"height":379,"data":{"name":"p8"},
"title":{"text":"Ideb Anos finais do ensino fundamental","dx":18,"offset":-34.3},
"encoding":{"x":{"field":"year","type":"quantitative","scale":{"domain":[2010.6573,2029.4623],"nice":false,"zero":false},"axis":null},"y":{"field":"v","type":"quantitative","scale":{"domain":[-1.3448,7.7512],"nice":false,"zero":false},"axis":null}},
"resolve":{"axis":{"x":"independent","y":"independent"}},
"layer":[
{"data":{"values":[{}]},"mark":{"type":"rule"},"encoding":{"x":{"datum":2012,"type":"quantitative","scale":{"domain":[2010.6573,2029.4623],"nice":false,"zero":false},"axis":{"orient":"top","offset":0,"values":[2010.6573],"ticks":true,"tickSize":-298,"labels":false,"title":null}},"x2":{"datum":2027},"y":{"datum":4,"type":"quantitative","scale":{"domain":[-1.3448,7.7512],"nice":false,"zero":false},"axis":{"orient":"left","values":[7.7512],"grid":true,"labels":false,"title":null}}}},
{"transform":[{"filter":{"field":"s","oneOf":["h","h2"]}}],"mark":{"type":"line","color":"#8C8C8C"},"encoding":{
 "x":{"field":"year","type":"quantitative","scale":{"domain":[2010.6573,2029.4623],"nice":false,"zero":false},"axis":{"orient":"bottom","offset":-222.7,"values":[2012,2013,2014,2015,2016,2017,2018,2019,2020,2021,2022,2023,2024,2025,2026,2027],"format":"d","labelAngle":-90,"labelFontSize":11.5,"labelPadding":8,"title":"Fonte: Inep/MEC. Projeções MPO, com base em informações do MEC.","titleX":18,"titleY":59,"titleAlign":"left","titleAngle":0,"titleBaseline":"top","titleFontSize":14.6,"titleFontWeight":"normal","titleColor":"#7F7F7F","titleLineHeight":20,"titleLimit":1000}},
 "y":{"field":"v","type":"quantitative","scale":{"domain":[-1.3448,7.7512],"nice":false,"zero":false},"axis":{"orient":"left","offset":-36.7,"values":[4,5,6],"format":"d","labelFontSize":11.5,"labelPadding":12.5,"title":null}},
 "detail":{"field":"s"}}},
{"transform":[{"filter":"datum.s == 'o'"}],"mark":{"type":"line","color":"#F5A623"}},
{"transform":[{"filter":"datum.s == 'g'"}],"mark":{"type":"line","color":"#0B8A67"}},
{"transform":[{"filter":"datum.s == 'o' && datum.lab"}],"mark":{"type":"point","shape":"M-1,-0.62L1,-0.62L1,0.62L-1,0.62Z","size":2500,"fill":"#F5A623","xOffset":39,"yOffset":15.9}},
{"transform":[{"filter":"datum.s == 'o' && datum.lab"}],"mark":{"type":"text","color":"white","fontWeight":"bold","fontSize":16,"xOffset":39,"yOffset":15.9},"encoding":{"text":{"field":"lab"}}},
{"transform":[{"filter":"datum.s == 'g' && datum.lab"}],"mark":{"type":"point","shape":"M-1,-0.62L1,-0.62L1,0.62L-1,0.62Z","size":2500,"fill":"#0B8A67","xOffset":39,"yOffset":-16.2}},
{"transform":[{"filter":"datum.s == 'g' && datum.lab"}],"mark":{"type":"text","color":"white","fontWeight":"bold","fontSize":16,"xOffset":39,"yOffset":-16.2},"encoding":{"text":{"field":"lab"}}},
{"transform":[{"filter":"datum.note"}],"mark":{"type":"point","shape":"M-1,-0.545L1,-0.545L0,0.545Z","size":484,"fill":"#C8C8C8","xOffset":-1,"yOffset":-21.7}},
{"transform":[{"filter":"datum.note"}],"mark":{"type":"point","shape":"M-1,-0.1429L1,-0.1429L1,0.1429L-1,0.1429Z","size":38416,"fill":"white","stroke":"#BFBFBF","strokeWidth":1.5,"xOffset":-5.7,"yOffset":-42.3}},
{"transform":[{"filter":"datum.note"}],"mark":{"type":"text","fontSize":17,"color":"#262626","xOffset":-5.7,"yOffset":-42.3},"encoding":{"text":{"field":"note"}}}
]
}
]
}
